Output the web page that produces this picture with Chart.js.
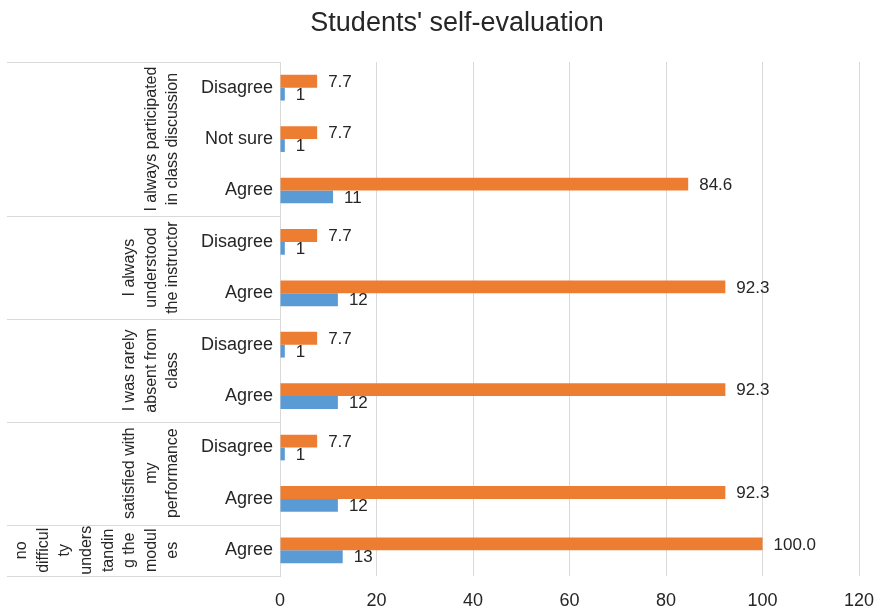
<!DOCTYPE html>
<html lang="en">
<head>
    <meta charset="UTF-8">
    <title>Students' self-evaluation</title>
    <script src="https://cdn.jsdelivr.net/npm/chart.js@4.4.1/dist/chart.umd.min.js"></script>
    <style>
        body { margin: 0; background: #fff; }
        #wrap { width: 880px; height: 609px; position: relative; }
    </style>
</head>
<body>
    <div id="wrap">
        <canvas id="myChart"></canvas>
    </div>
    <script>
        // 데이터
        var v_title = "Students' self-evaluation";
        var v_labels = ["Disagree", "Not sure", "Agree", "Disagree", "Agree", "Disagree", "Agree", "Disagree", "Agree", "Agree"];
        var v_percent = [7.7, 7.7, 84.6, 7.7, 92.3, 7.7, 92.3, 7.7, 92.3, 100.0];
        var v_count = [1, 1, 11, 1, 12, 1, 12, 1, 12, 13];
        var v_groupStart = [0, 3, 5, 7, 9, 10];
        var v_groupNames = [
            ["I always participated", "in class discussion"],
            ["I always", "understood", "the instructor"],
            ["I was rarely", "absent from", "class"],
            ["satisfied with", "my", "performance"],
            ["no", "difficul", "ty", "unders", "tandin", "g the", "modul", "es"]
        ];
        var v_xTicks = [0, 20, 40, 60, 80, 100, 120];

        var FONT = '"Liberation Sans", Arial, Helvetica, sans-serif';
        var TEXT = "#262626";
        var LINE = "#d9d9d9";

        // 제목, 그룹 라벨, 값 라벨 그리기
        var f_extra = {
            id: "extra",
            afterDraw: function (chart) {
                var ctx = chart.ctx;
                var ys = chart.scales.y;
                var area = chart.chartArea;
                ctx.save();

                ctx.fillStyle = TEXT;
                ctx.font = "27px " + FONT;
                ctx.textAlign = "center";
                ctx.textBaseline = "alphabetic";
                ctx.fillText(v_title, 457, 31);

                // 그룹 구분선
                ctx.strokeStyle = LINE;
                ctx.lineWidth = 1;
                for (var i = 0; i < v_groupStart.length; i++) {
                    var y = Math.round(ys.getPixelForValue(v_groupStart[i] - 0.5)) + 0.5;
                    ctx.beginPath();
                    ctx.moveTo(7, y);
                    ctx.lineTo(area.left, y);
                    ctx.stroke();
                }

                // 세로 그룹 라벨
                ctx.font = "16px " + FONT;
                ctx.textAlign = "center";
                ctx.textBaseline = "middle";
                for (var g = 0; g < v_groupNames.length; g++) {
                    var top = ys.getPixelForValue(v_groupStart[g] - 0.5);
                    var bot = ys.getPixelForValue(v_groupStart[g + 1] - 0.5);
                    var cy = (top + bot) / 2;
                    var lines = v_groupNames[g];
                    for (var k = 0; k < lines.length; k++) {
                        var cx = 173 - 21.6 * (lines.length - 1 - k);
                        ctx.save();
                        ctx.translate(cx, cy);
                        ctx.rotate(-Math.PI / 2);
                        ctx.fillText(lines[k], 0, 0);
                        ctx.restore();
                    }
                }

                // 값 라벨
                ctx.font = "17px " + FONT;
                ctx.textAlign = "left";
                ctx.textBaseline = "middle";
                chart.data.datasets.forEach(function (ds, di) {
                    var meta = chart.getDatasetMeta(di);
                    meta.data.forEach(function (bar, j) {
                        var txt = di === 0 ? ds.data[j].toFixed(1) : String(ds.data[j]);
                        ctx.fillText(txt, bar.x + 11, bar.y + 1);
                    });
                });
                ctx.restore();
            }
        };

        var ctx = document.getElementById("myChart").getContext("2d");
        var myChart = new Chart(ctx, {
            type: "bar",
            data: {
                labels: v_labels,
                datasets: [{
                    label: "%",
                    data: v_percent,
                    backgroundColor: "#ED7D31",
                    categoryPercentage: 0.5,
                    barPercentage: 1.0
                }, {
                    label: "n",
                    data: v_count,
                    backgroundColor: "#5B9BD5",
                    categoryPercentage: 0.5,
                    barPercentage: 1.0
                }]
            },
            options: {
                indexAxis: "y",
                responsive: true,
                maintainAspectRatio: false,
                animation: false,
                layout: { padding: { top: 62, right: 21, left: 0, bottom: 0 } },
                plugins: {
                    legend: { display: false },
                    title: { display: false },
                    tooltip: { enabled: false }
                },
                scales: {
                    x: {
                        min: 0,
                        max: 120,
                        afterBuildTicks: function (axis) {
                            axis.ticks = v_xTicks.map(function (v) { return { value: v }; });
                        },
                        afterFit: function (axis) {
                            axis.height = 33;
                            axis.paddingLeft = 0;
                            axis.paddingRight = 0;
                        },
                        grid: { color: LINE, drawTicks: false },
                        border: { display: false },
                        ticks: { color: TEXT, padding: 14, font: { size: 18, family: FONT } }
                    },
                    y: {
                        afterFit: function (axis) { axis.width = 280; },
                        grid: { display: false, drawTicks: false },
                        border: { display: true, color: LINE },
                        ticks: { color: TEXT, padding: 7, font: { size: 18, family: FONT } }
                    }
                }
            },
            plugins: [f_extra]
        });
    </script>
</body>
</html>
